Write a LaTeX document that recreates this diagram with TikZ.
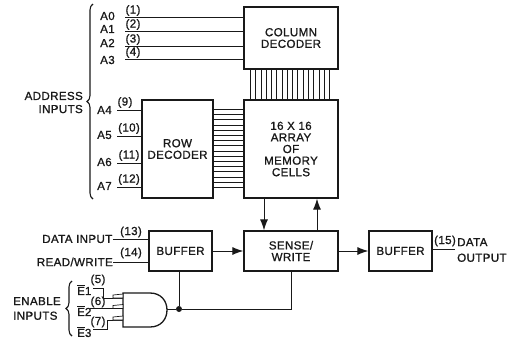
\documentclass[tikz,border=0pt]{standalone}
\usepackage{fontspec}
\setmainfont[LetterSpace=3,FakeBold=1]{Liberation Sans}
\usetikzlibrary{positioning,calc,arrows.meta,decorations.pathreplacing}
\definecolor{ink}{RGB}{25,25,25}
\newcommand{\ovl}[1]{$\overline{\mbox{#1}}$}

\begin{document}
\begin{tikzpicture}[
  x=1pt, y=-1pt,
  font=\fontsize{11.6}{11.6}\selectfont,
  >={Latex[length=11pt,width=8pt]},
  wire/.style={draw=ink, line width=0.9pt},
  flow/.style={draw=ink, line width=0.9pt, ->},
  blk/.style={draw=ink, line width=1.3pt, fill=white, align=center, inner sep=0pt, text=ink},
  lbl/.style={inner sep=0pt, text=ink, align=left},
  pin/.style={inner sep=0pt, text=ink},
  bus/.style={draw=ink, line width=0.6pt},
  curly/.style={draw=ink, line width=1.1pt, decorate, decoration={brace, amplitude=6pt, mirror}},
  ramp/.style={draw=ink, line width=0.7pt, fill=white},
]
\useasboundingbox (0,0) rectangle (515,338);

% ---- main blocks ----
\node[blk, minimum width=94pt, minimum height=62pt] (COL) at (291,38) {COLUMN\\DECODER};
\node[blk, minimum width=94pt, minimum height=98pt] (ARR) at (291,149) {16 X 16\\ARRAY\\OF\\MEMORY\\CELLS};
\node[blk, minimum width=71pt, minimum height=98pt] (ROW) at (177.5,149) {ROW\\DECODER};
\node[blk, minimum width=94pt, minimum height=40pt] (SW) at (291,251) {SENSE/\\WRITE};
\node[blk, minimum width=63pt, minimum height=40pt] (BUFI) at (180.5,251) {BUFFER};
\node[blk, minimum width=63pt, minimum height=40pt] (BUFO) at (400.5,251) {BUFFER};

% ---- buses ----
\foreach \i in {0,...,15} {
  \draw[bus] ($(COL.south west)+(7+5.27*\i,0)$) -- ($(ARR.north west)+(7+5.27*\i,0)$);
  \draw[bus] ($(ROW.north east)+(0,10+5.2*\i)$) -- ($(ARR.north west)+(0,10+5.2*\i)$);
}

% ---- address pins ----
\foreach \name/\pin/\yy/\ly in {A0/1/17/16,A1/2/31/29,A2/3/46/43,A3/4/59/60} {
  \node[lbl, anchor=west] (L\name) at (100,\ly) {\name};
  \coordinate (S\name) at (125,\yy);
  \draw[wire] (S\name) -- (S\name -| COL.west);
  \node[pin] (P\name) at (133,\yy-6.5) {(\pin)};
}
\foreach \name/\pin/\yy/\ly/\pinx in {A4/9/110/110/125,A5/10/136/135/129,A6/11/163/162/129,A7/12/187/186/129} {
  \node[lbl, anchor=west] (L\name) at (97,\ly) {\name};
  \coordinate (S\name) at (117,\yy);
  \draw[wire] (S\name) -- (S\name -| ROW.west);
  \node[pin] (P\name) at (\pinx,\yy-7.5) {(\pin)};
}

% ---- address brace ----
\coordinate (BA) at (93,4);
\coordinate (BB) at (93,199);
\draw[curly] (BA) -- (BB);
\node[lbl, align=right, anchor=east] (ADDR) at (83,102.5) {ADDRESS\\[1.5pt]INPUTS};

% ---- array <-> sense ----
\draw[flow] (ARR.south -| 264,0) -- (SW.north -| 264,0);
\draw[flow] (SW.north -| 317,0) -- (ARR.south -| 317,0);

% ---- buffers ----
\draw[flow] (BUFI) -- (SW);
\draw[flow] (SW) -- (BUFO);
\coordinate (OUT) at (455,249);
\draw[wire] (BUFO.east |- OUT) -- (OUT);
\node[pin] (P15) at (445,241) {(15)};
\node[lbl, anchor=west] (DOUT) at (457,250) {DATA\\[4pt]OUTPUT};

\node[lbl, anchor=east] (DIN) at (112.5,239) {DATA INPUT};
\node[lbl, anchor=east] (RW) at (113,262) {READ/WRITE};
\draw[wire] (DIN.east) -- (DIN.east -| BUFI.west);
\draw[wire] (RW.east) -- (RW.east -| BUFI.west);
\node[pin] (P13) at (131,232) {(13)};
\node[pin] (P14) at (131,253) {(14)};

% ---- enable gate ----
\coordinate (GT) at (123,293);
\coordinate (GB) at (123,327);
\draw[draw=ink, line width=1.3pt, fill=white] (GT) -- (150,293) .. controls (161,293) and (167,301) .. (167,310) .. controls (167,319) and (161,327) .. (150,327) -- (GB) -- cycle;
\coordinate (GO) at (167,309);
\node[circle, fill=ink, inner sep=0pt, minimum size=6pt] (JN) at (179,309) {};
\draw[wire] (GO) -- (JN) -- (JN -| SW.south) -- (SW.south);
\draw[wire] (JN) -- (JN |- BUFI.south);

\node[lbl, anchor=west] (E1) at (77,290) {\ovl{E}1};
\node[lbl, anchor=west] (E2) at (77,311) {\ovl{E}2};
\node[lbl, anchor=west] (E3) at (77,332) {\ovl{E}3};
\node[pin] (P5) at (98,280) {(5)};
\node[pin] (P6) at (98,302) {(6)};
\node[pin] (P7) at (98,322) {(7)};
\coordinate (I1) at (123,298);
\coordinate (I2) at (123,308.5);
\coordinate (I3) at (123,320);
\draw[wire] (93,288) -- (103,288) -- (103,298) -- (I1);
\draw[wire] (90,308.5) -- (I2);
\draw[wire] (93,329) -- (107,329) -- (107,320) -- (I3);
\foreach \c in {I1,I2,I3} {
  \draw[ramp] ($(\c)+(-10,0)$) -- ($(\c)+(-10,-3)$) -- ($(\c)+(0,-4)$) -- (\c) -- cycle;
}
\coordinate (BC) at (72,281);
\coordinate (BD) at (72,336);
\draw[curly] (BC) -- (BD);
\node[lbl, anchor=west] (EN) at (13,308.5) {ENABLE\\[3pt]INPUTS};

\end{tikzpicture}
\end{document}
